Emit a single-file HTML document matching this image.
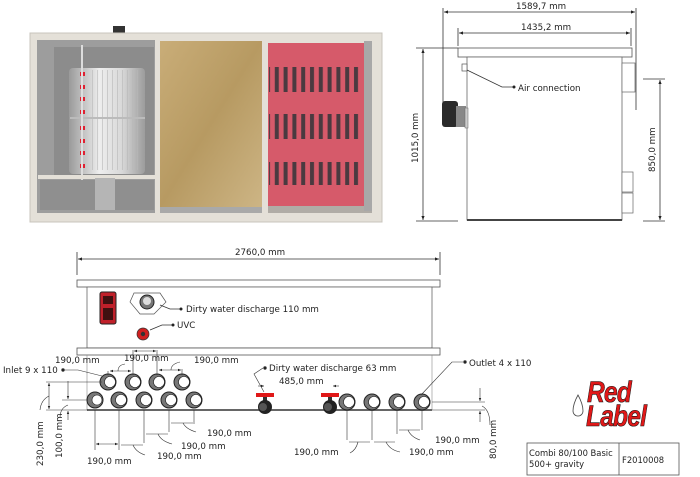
<!DOCTYPE html>
<html><head><meta charset="utf-8"><style>
html,body{margin:0;padding:0;background:#fff;width:700px;height:477px;overflow:hidden}
svg{display:block}
text{font-family:"DejaVu Sans","Liberation Sans",sans-serif;font-size:8.7px;fill:#222}
</style></head><body>
<svg width="700" height="477" viewBox="0 0 700 477" xmlns="http://www.w3.org/2000/svg">
<defs>
<linearGradient id="drum" x1="0" x2="1"><stop offset="0" stop-color="#9a9a9a"/><stop offset=".4" stop-color="#eeeeee"/><stop offset=".7" stop-color="#d8d8d8"/><stop offset="1" stop-color="#9c9c9c"/></linearGradient>
<linearGradient id="sand" x1="0" x2="1" y1="0" y2="1"><stop offset="0" stop-color="#c9ad78"/><stop offset=".5" stop-color="#b79a62"/><stop offset="1" stop-color="#cdb585"/></linearGradient>
<pattern id="slots" width="8.8" height="10" patternUnits="userSpaceOnUse"><rect x="2" y="0" width="4" height="10" fill="#4a3a40"/></pattern>
<pattern id="dslots" width="5" height="10" patternUnits="userSpaceOnUse"><rect x="2" y="0" width="1" height="10" fill="#b8b8b8"/></pattern>
<marker id="ar" markerWidth="6" markerHeight="6" refX="5" refY="3" orient="auto"><path d="M0,1 L5,3 L0,5z" fill="#222"/></marker>
<marker id="al" markerWidth="6" markerHeight="6" refX="1" refY="3" orient="auto"><path d="M6,1 L1,3 L6,5z" fill="#222"/></marker>
</defs>

<!-- Photo top-left -->
<rect x="113" y="26" width="12" height="7" fill="#333"/>
<rect x="30" y="33" width="352" height="189" fill="#e4e0d8" stroke="#c8c4bc"/>
<rect x="37" y="40" width="118" height="173" fill="#9d9d9d"/>
<rect x="54" y="47" width="100" height="130" fill="#8c8c8c"/>
<rect x="69" y="68" width="76" height="106" rx="4" fill="url(#drum)"/>
<rect x="88" y="70" width="50" height="100" fill="url(#dslots)" opacity="0.6"/>
<line x1="70" y1="118" x2="145" y2="118" stroke="#bbb" stroke-width="2"/>
<g fill="#e02030"><rect x="80" y="72" width="5" height="4"/><rect x="80" y="85" width="5" height="4"/><rect x="80" y="97" width="5" height="4"/><rect x="80" y="110" width="5" height="4"/><rect x="80" y="126" width="5" height="4"/><rect x="80" y="139" width="5" height="4"/><rect x="80" y="151" width="5" height="4"/><rect x="80" y="164" width="5" height="4"/></g>
<line x1="82" y1="45" x2="82" y2="210" stroke="#ddd" stroke-width="2"/>
<rect x="38" y="175" width="117" height="4" fill="#e4e0d8"/>
<rect x="40" y="180" width="114" height="30" fill="#8f8f8f"/>
<rect x="95" y="178" width="20" height="32" fill="#b5b5b5"/>
<rect x="160" y="41" width="102" height="166" fill="url(#sand)"/>
<rect x="160" y="207" width="102" height="6" fill="#a9a9a9"/>
<rect x="268" y="43" width="96" height="163" fill="#d65a6a"/>
<rect x="269" y="67" width="90" height="25" fill="url(#slots)"/>
<rect x="269" y="114" width="90" height="25" fill="url(#slots)"/>
<rect x="269" y="162" width="90" height="23" fill="url(#slots)"/>
<rect x="268" y="206" width="104" height="7" fill="#b0aca6"/>
<rect x="364" y="41" width="8" height="170" fill="#a8a8a8"/>

<!-- Side view -->
<g stroke="#333" stroke-width="0.8" fill="none">
<line x1="443" y1="8" x2="443" y2="103"/><line x1="636" y1="8" x2="636" y2="110"/>
<line x1="444" y1="12" x2="635" y2="12" marker-start="url(#al)" marker-end="url(#ar)"/>
<line x1="458" y1="28" x2="458" y2="46"/><line x1="631" y1="28" x2="631" y2="46"/>
<line x1="459" y1="33" x2="630" y2="33" marker-start="url(#al)" marker-end="url(#ar)"/>
<line x1="416" y1="48" x2="458" y2="48"/><line x1="416" y1="221" x2="458" y2="221"/>
<line x1="423" y1="49" x2="423" y2="220" marker-start="url(#al)" marker-end="url(#ar)"/>
<line x1="643" y1="79" x2="665" y2="79"/><line x1="643" y1="221" x2="665" y2="221"/>
<line x1="660" y1="80" x2="660" y2="220" marker-start="url(#al)" marker-end="url(#ar)"/>
</g>
<rect x="458" y="48" width="174" height="9" fill="#fff" stroke="#555" stroke-width="0.8"/>
<rect x="467" y="57" width="155" height="163" fill="#fff" stroke="#666" stroke-width="0.8"/>
<line x1="467" y1="220" x2="622" y2="220" stroke="#444" stroke-width="2"/>
<rect x="622" y="63" width="13" height="29" fill="#fff" stroke="#666" stroke-width="0.7"/>
<rect x="622" y="172" width="11" height="20" fill="#fff" stroke="#666" stroke-width="0.7"/>
<rect x="622" y="193" width="11" height="20" fill="#fff" stroke="#666" stroke-width="0.7"/>
<rect x="462" y="64" width="5" height="7" fill="#fff" stroke="#555" stroke-width="0.7"/>
<rect x="442" y="101" width="16" height="26" rx="3" fill="#2a2a2a"/>
<rect x="456" y="106" width="10" height="21" fill="#888"/>
<rect x="465" y="108" width="3" height="20" fill="#ccc" stroke="#666" stroke-width="0.5"/>
<polyline points="467,70 502,87 514,87" fill="none" stroke="#333" stroke-width="0.8"/>
<circle cx="514" cy="87" r="1.5" fill="#222"/>
<text x="518" y="91">Air connection</text>
<text x="516" y="9">1589,7 mm</text>
<text x="521" y="30">1435,2 mm</text>
<text transform="translate(418,163) rotate(-90)">1015,0 mm</text>
<text transform="translate(655,172) rotate(-90)">850,0 mm</text>

<!-- Front view -->
<g stroke="#333" stroke-width="0.8" fill="none">
<line x1="77" y1="252" x2="77" y2="275"/><line x1="440" y1="252" x2="440" y2="275"/>
<line x1="78" y1="259" x2="439" y2="259" marker-start="url(#al)" marker-end="url(#ar)"/>
</g>
<text x="235" y="255">2760,0 mm</text>
<rect x="77" y="280" width="363" height="7" fill="#fff" stroke="#555" stroke-width="0.8"/>
<rect x="87" y="287" width="345" height="61" fill="#fff" stroke="#666" stroke-width="0.8"/>
<rect x="77" y="348" width="363" height="7" fill="#fff" stroke="#555" stroke-width="0.8"/>
<line x1="87" y1="355" x2="87" y2="410" stroke="#888" stroke-width="0.6"/>
<line x1="432" y1="355" x2="432" y2="410" stroke="#888" stroke-width="0.6"/>
<line x1="87" y1="410" x2="432" y2="410" stroke="#666" stroke-width="2"/>
<!-- control box -->
<rect x="100" y="292" width="16" height="32" rx="2" fill="#c0202a" stroke="#222"/>
<rect x="103" y="296" width="10" height="8" fill="#401010"/>
<rect x="103" y="308" width="10" height="12" fill="#401010"/>
<polygon points="134,293 160,293 166,302 154,314 140,314 130,302" fill="#fff" stroke="#555" stroke-width="0.7"/>
<circle cx="147" cy="302" r="7" fill="#777" stroke="#222"/>
<circle cx="147" cy="301" r="4" fill="#ddd"/>
<polyline points="160,305 170,309 181,309" fill="none" stroke="#333" stroke-width="0.8"/>
<circle cx="181" cy="309" r="1.5" fill="#222"/>
<text x="186" y="312">Dirty water discharge 110 mm</text>
<circle cx="143" cy="334" r="6" fill="#d02020" stroke="#333" stroke-width="0.7"/>
<circle cx="143" cy="334" r="2.2" fill="#333"/>
<polyline points="150,330 162,325 173,325" fill="none" stroke="#333" stroke-width="0.8"/>
<circle cx="173" cy="325" r="1.5" fill="#222"/>
<text x="177" y="328">UVC</text>

<!-- pipes -->
<g stroke="#222" stroke-width="1">
<g fill="#777">
<circle cx="108" cy="382" r="8"/><circle cx="133" cy="382" r="8"/><circle cx="157" cy="382" r="8"/><circle cx="182" cy="382" r="8"/>
<circle cx="95" cy="400" r="8"/><circle cx="119" cy="400" r="8"/><circle cx="144" cy="400" r="8"/><circle cx="169" cy="400" r="8"/><circle cx="194" cy="400" r="8"/>
<circle cx="347" cy="402" r="8"/><circle cx="372" cy="402" r="8"/><circle cx="397" cy="402" r="8"/><circle cx="422" cy="402" r="8"/>
</g>
<g fill="#fff" stroke-width="0.6">
<circle cx="110" cy="382" r="5.5"/><circle cx="135" cy="382" r="5.5"/><circle cx="159" cy="382" r="5.5"/><circle cx="184" cy="382" r="5.5"/>
<circle cx="97" cy="400" r="5"/><circle cx="121" cy="400" r="5.5"/><circle cx="146" cy="400" r="5.5"/><circle cx="171" cy="400" r="5.5"/><circle cx="196" cy="400" r="5.5"/>
<circle cx="349" cy="402" r="5.5"/><circle cx="374" cy="402" r="5.5"/><circle cx="399" cy="402" r="5.5"/><circle cx="424" cy="402" r="5.5"/>
</g>
</g>
<!-- valves -->
<rect x="256" y="393" width="18" height="4" fill="#e01818"/><rect x="263" y="397" width="4" height="4" fill="#333"/>
<circle cx="265" cy="407" r="7" fill="#222"/><circle cx="263" cy="407" r="4" fill="#555"/>
<rect x="321" y="393" width="18" height="4" fill="#e01818"/><rect x="328" y="397" width="4" height="4" fill="#333"/>
<circle cx="330" cy="407" r="7" fill="#222"/><circle cx="328" cy="407" r="4" fill="#555"/>

<!-- dims bottom -->
<g stroke="#333" stroke-width="0.6" fill="none">
<line x1="108" y1="371" x2="108" y2="375"/><line x1="133" y1="350" x2="133" y2="375"/>
<line x1="110" y1="371" x2="131" y2="371" marker-start="url(#al)" marker-end="url(#ar)"/>
<line x1="157" y1="350" x2="157" y2="375"/>
<line x1="134" y1="351" x2="156" y2="351" marker-start="url(#al)" marker-end="url(#ar)"/>
<line x1="182" y1="369" x2="182" y2="375"/>
<line x1="159" y1="370" x2="181" y2="370" marker-start="url(#al)" marker-end="url(#ar)"/>
<path d="M118,371 Q118,365 125,364"/><path d="M171,370 Q171,364 180,362"/>
<polyline points="64,370 78,370 102,376"/><circle cx="63" cy="370" r="1.4" fill="#222"/>
<line x1="46" y1="382" x2="102" y2="382"/><line x1="46" y1="410" x2="88" y2="410"/>
<line x1="49" y1="383" x2="49" y2="409" marker-start="url(#al)" marker-end="url(#ar)"/>
<path d="M49,396 Q41,400 40,410"/>
<line x1="62" y1="400" x2="88" y2="400"/>
<line x1="68" y1="381" x2="68" y2="399" marker-end="url(#ar)"/><line x1="68" y1="420" x2="68" y2="411" marker-end="url(#ar)"/>
<path d="M68,405 Q60,408 60,418"/>
<line x1="95" y1="410" x2="95" y2="450"/><line x1="119" y1="410" x2="119" y2="450"/>
<line x1="96" y1="444" x2="118" y2="444" marker-start="url(#al)" marker-end="url(#ar)"/>
<line x1="144" y1="410" x2="144" y2="443"/>
<line x1="121" y1="445" x2="143" y2="445"/><path d="M133,445 Q136,452 145,455"/>
<line x1="169" y1="410" x2="169" y2="432"/>
<line x1="146" y1="434" x2="168" y2="434"/><path d="M158,434 Q161,441 172,444"/>
<line x1="194" y1="410" x2="194" y2="424"/>
<line x1="171" y1="423" x2="193" y2="423"/><path d="M183,423 Q186,429 196,432"/>
<polyline points="264,392 254,374 263,368"/><circle cx="265" cy="368" r="1.4" fill="#222"/>
<line x1="258" y1="386" x2="264" y2="386" marker-end="url(#ar)"/><line x1="339" y1="386" x2="333" y2="386" marker-end="url(#ar)"/>
<line x1="347" y1="410" x2="347" y2="440"/><line x1="372" y1="410" x2="372" y2="440"/><line x1="397" y1="410" x2="397" y2="434"/><line x1="422" y1="410" x2="422" y2="430"/>
<line x1="349" y1="442" x2="370" y2="442"/><line x1="374" y1="442" x2="395" y2="442"/>
<path d="M358,442 Q356,450 350,453"/><path d="M386,442 Q390,450 400,452"/>
<line x1="399" y1="430" x2="420" y2="430"/><path d="M408,430 Q411,437 420,440"/>
<polyline points="421,395 452,362 463,362"/><circle cx="465" cy="362" r="1.4" fill="#222"/>
<line x1="432" y1="402" x2="485" y2="402"/><line x1="432" y1="410" x2="485" y2="410"/>
<line x1="480" y1="388" x2="480" y2="401" marker-end="url(#ar)"/><line x1="480" y1="422" x2="480" y2="411" marker-end="url(#ar)"/>
<path d="M482,406 Q490,410 490,425"/>
</g>
<text x="55" y="363">190,0 mm</text>
<text x="124" y="361">190,0 mm</text>
<text x="194" y="363">190,0 mm</text>
<text x="3" y="373">Inlet 9 x 110</text>
<text transform="translate(43,466) rotate(-90)">230,0 mm</text>
<text transform="translate(62,458) rotate(-90)">100,0 mm</text>
<text x="87" y="464">190,0 mm</text>
<text x="157" y="459">190,0 mm</text>
<text x="181" y="449">190,0 mm</text>
<text x="207" y="436">190,0 mm</text>
<text x="269" y="371">Dirty water discharge 63 mm</text>
<text x="279" y="384">485,0 mm</text>
<text x="294" y="455">190,0 mm</text>
<text x="409" y="455">190,0 mm</text>
<text x="435" y="443">190,0 mm</text>
<text x="469" y="366">Outlet 4 x 110</text>
<text transform="translate(496,459) rotate(-90)">80,0 mm</text>

<!-- logo -->
<path d="M578,395 Q573,404 573,411 A5,5 0 0 0 583,411 Q583,404 578,395z" fill="#fff" stroke="#444" stroke-width="0.8"/>
<text x="587" y="402" style="font-family:'Liberation Sans',sans-serif;font-size:30px;font-weight:bold;font-style:italic;fill:#e01818;stroke:#111;stroke-width:0.6;letter-spacing:-1px" transform="translate(587,402) scale(0.82,1) translate(-587,-402)">Red</text>
<text x="586" y="426" style="font-family:'Liberation Sans',sans-serif;font-size:30px;font-weight:bold;font-style:italic;fill:#e01818;stroke:#111;stroke-width:0.6;letter-spacing:-1px" transform="translate(586,426) scale(0.82,1) translate(-586,-426)">Label</text>

<!-- title block -->
<rect x="527" y="443" width="152" height="32" fill="#fff" stroke="#555" stroke-width="0.8"/>
<line x1="619" y1="443" x2="619" y2="475" stroke="#555" stroke-width="0.8"/>
<text x="529" y="456" style="font-size:8.4px">Combi 80/100 Basic</text>
<text x="529" y="467" style="font-size:8.4px">500+ gravity</text>
<text x="622" y="463" style="font-size:8.4px">F2010008</text>
</svg>
</body></html>
